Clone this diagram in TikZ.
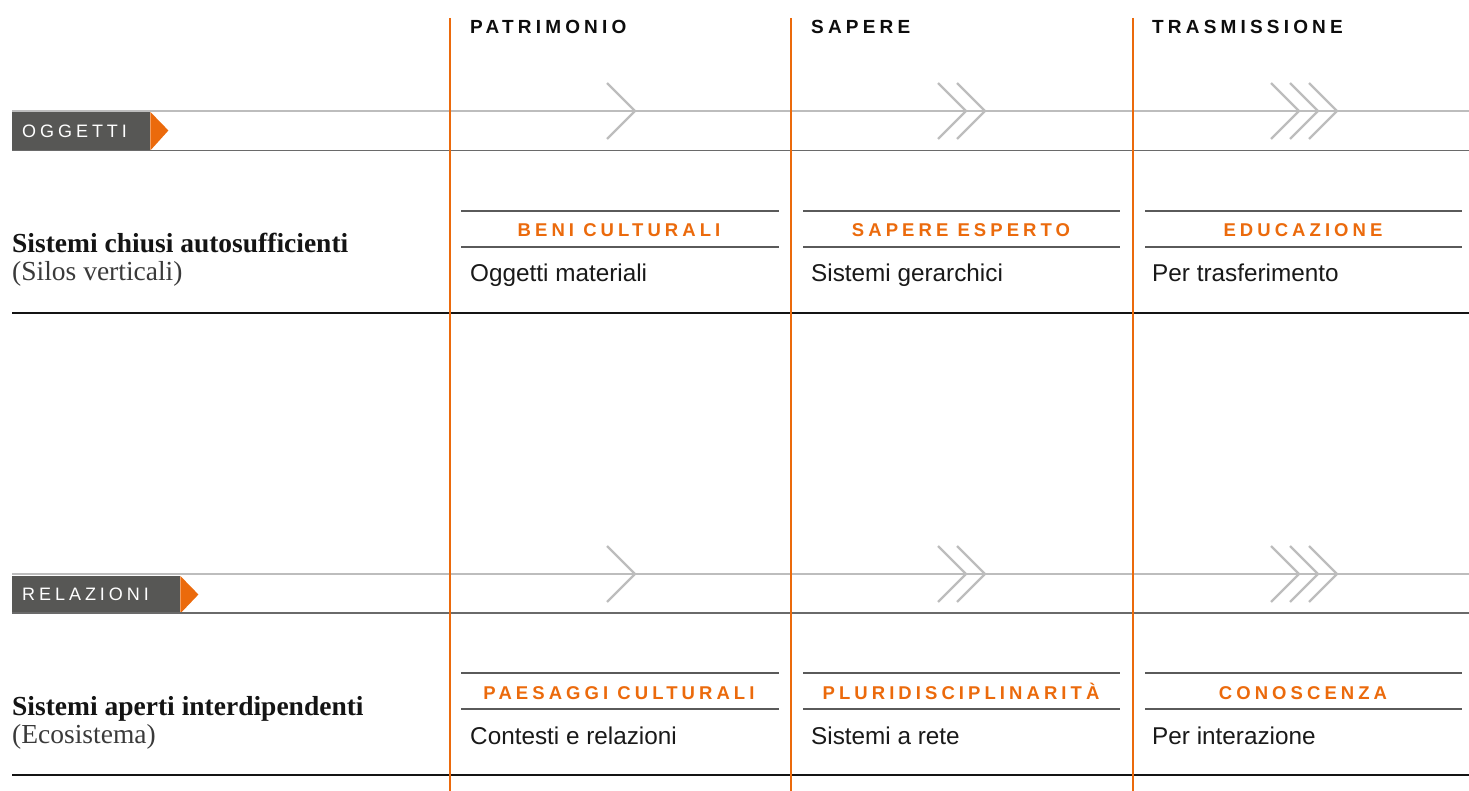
\documentclass[tikz,border=0pt]{standalone}
\usepackage{fontspec}
\setmainfont{Liberation Serif}
\newfontfamily\sansf{Liberation Sans}
\newfontfamily\headf[LetterSpace=22]{Liberation Sans}
\newfontfamily\titlef[LetterSpace=22]{Liberation Sans}
\newfontfamily\tagf[LetterSpace=22]{Liberation Sans}
\definecolor{orng}{HTML}{EB6A0C}
\definecolor{trackgrey}{HTML}{BDBDBD}
\definecolor{basegrey}{HTML}{6A6A6A}
\definecolor{cardgrey}{HTML}{5A5A5A}
\definecolor{tagfill}{HTML}{575755}
\definecolor{subgrey}{HTML}{3A3A3A}
\begin{document}
\begin{tikzpicture}[x=1pt,y=-1pt,
  vline/.style={draw=orng,line width=1.3pt},
  track/.style={draw=trackgrey,line width=2.8pt},
  baseln/.style={draw=basegrey,line width=1.6pt},
  rowend/.style={draw=black!92,line width=2pt},
  cardln/.style={draw=cardgrey,line width=1.3pt},
  chev/.style={draw=trackgrey,line width=2.3pt},
  head/.style={anchor=base west,inner sep=0,text=black!95,font=\headf\bfseries\fontsize{19}{21}\selectfont},
  tagbox/.style={anchor=north west,fill=tagfill,inner ysep=0,inner xsep=10,align=left,minimum height=38,text=white,font=\tagf\fontsize{18}{20}\selectfont},
  ctitle/.style={anchor=base,inner sep=0,text=orng,font=\titlef\bfseries\fontsize{18.5}{20}\selectfont},
  cbody/.style={anchor=base west,inner sep=0,text=black!90,font=\sansf\fontsize{24.3}{27}\selectfont},
  rlabel/.style={anchor=base west,inner sep=0,text=black!92,font=\bfseries\fontsize{27.5}{30}\selectfont},
  rsub/.style={anchor=base west,inner sep=0,text=subgrey,font=\fontsize{27.5}{30}\selectfont}
]
\useasboundingbox (0,0) rectangle (1469,791);

% ---------- column headers
\node[head] (h1) at (470,34) {PATRIMONIO};
\node[head] (h2) at (811,34) {SAPERE};
\node[head] (h3) at (1152,34) {TRASMISSIONE};

% ---------- row 1 : OGGETTI
\coordinate (t1a) at (12,111);
\coordinate (t1b) at (1469,111);
\draw[track] (t1a) -- (t1b);
\node[tagbox,text width=118] (tag1) at (12,112) {OGGETTI};
\fill[orng] (tag1.north east) -- ++(18,18.5) -- (tag1.south east) -- cycle;
\coordinate (b1a) at (12,150.5);
\coordinate (b1b) at (1469,150.5);
\draw[baseln] (b1a) -- (b1b);

\foreach \tx in {635,966,985,1299,1318,1337}{
  \draw[chev] (\tx-28,83) -- (\tx,111) -- (\tx-28,139);
}

% cards row 1
\foreach \xa/\xb in {461/779,803/1120,1145/1462}{
  \draw[cardln] (\xa,211) -- (\xb,211);
  \draw[cardln] (\xa,247) -- (\xb,247);
}
\node[ctitle] (c11) at (619,237) {BENI CULTURALI};
\node[ctitle] (c12) at (961,237) {SAPERE ESPERTO};
\node[ctitle] (c13) at (1303,237) {EDUCAZIONE};
\node[cbody] (d11) at (470,282) {Oggetti materiali};
\node[cbody] (d12) at (811,282) {Sistemi gerarchici};
\node[cbody] (d13) at (1152,282) {Per trasferimento};

\node[rlabel] (l1) at (12,253) {Sistemi chiusi autosufficienti};
\node[rsub] (s1) at (12,281) {(Silos verticali)};
\coordinate (e1a) at (12,313);
\coordinate (e1b) at (1469,313);
\draw[rowend] (e1a) -- (e1b);

% ---------- row 2 : RELAZIONI
\coordinate (t2a) at (12,574);
\coordinate (t2b) at (1469,574);
\draw[track] (t2a) -- (t2b);
\node[tagbox,text width=148,minimum height=37] (tag2) at (12,576) {RELAZIONI};
\fill[orng] (tag2.north east) -- ++(18,18.5) -- (tag2.south east) -- cycle;
\coordinate (b2a) at (12,613);
\coordinate (b2b) at (1469,613);
\draw[baseln] (b2a) -- (b2b);

\foreach \tx in {635,966,985,1299,1318,1337}{
  \draw[chev] (\tx-28,546) -- (\tx,574) -- (\tx-28,602);
}

\foreach \xa/\xb in {461/779,803/1120,1145/1462}{
  \draw[cardln] (\xa,673) -- (\xb,673);
  \draw[cardln] (\xa,709) -- (\xb,709);
}
\node[ctitle] (c21) at (619,699) {PAESAGGI CULTURALI};
\node[ctitle] (c22) at (961,699) {PLURIDISCIPLINARITÀ};
\node[ctitle] (c23) at (1303,699) {CONOSCENZA};
\node[cbody] (d21) at (470,744) {Contesti e relazioni};
\node[cbody] (d22) at (811,744) {Sistemi a rete};
\node[cbody] (d23) at (1152,744) {Per interazione};

\node[rlabel] (l2) at (12,715) {Sistemi aperti interdipendenti};
\node[rsub] (s2) at (12,743) {(Ecosistema)};
\coordinate (e2a) at (12,775);
\coordinate (e2b) at (1469,775);
\draw[rowend] (e2a) -- (e2b);

% ---------- orange column dividers
\foreach \vx in {450,791,1133}{
  \draw[vline] (\vx,18) -- (\vx,791);
}
\end{tikzpicture}
\end{document}
